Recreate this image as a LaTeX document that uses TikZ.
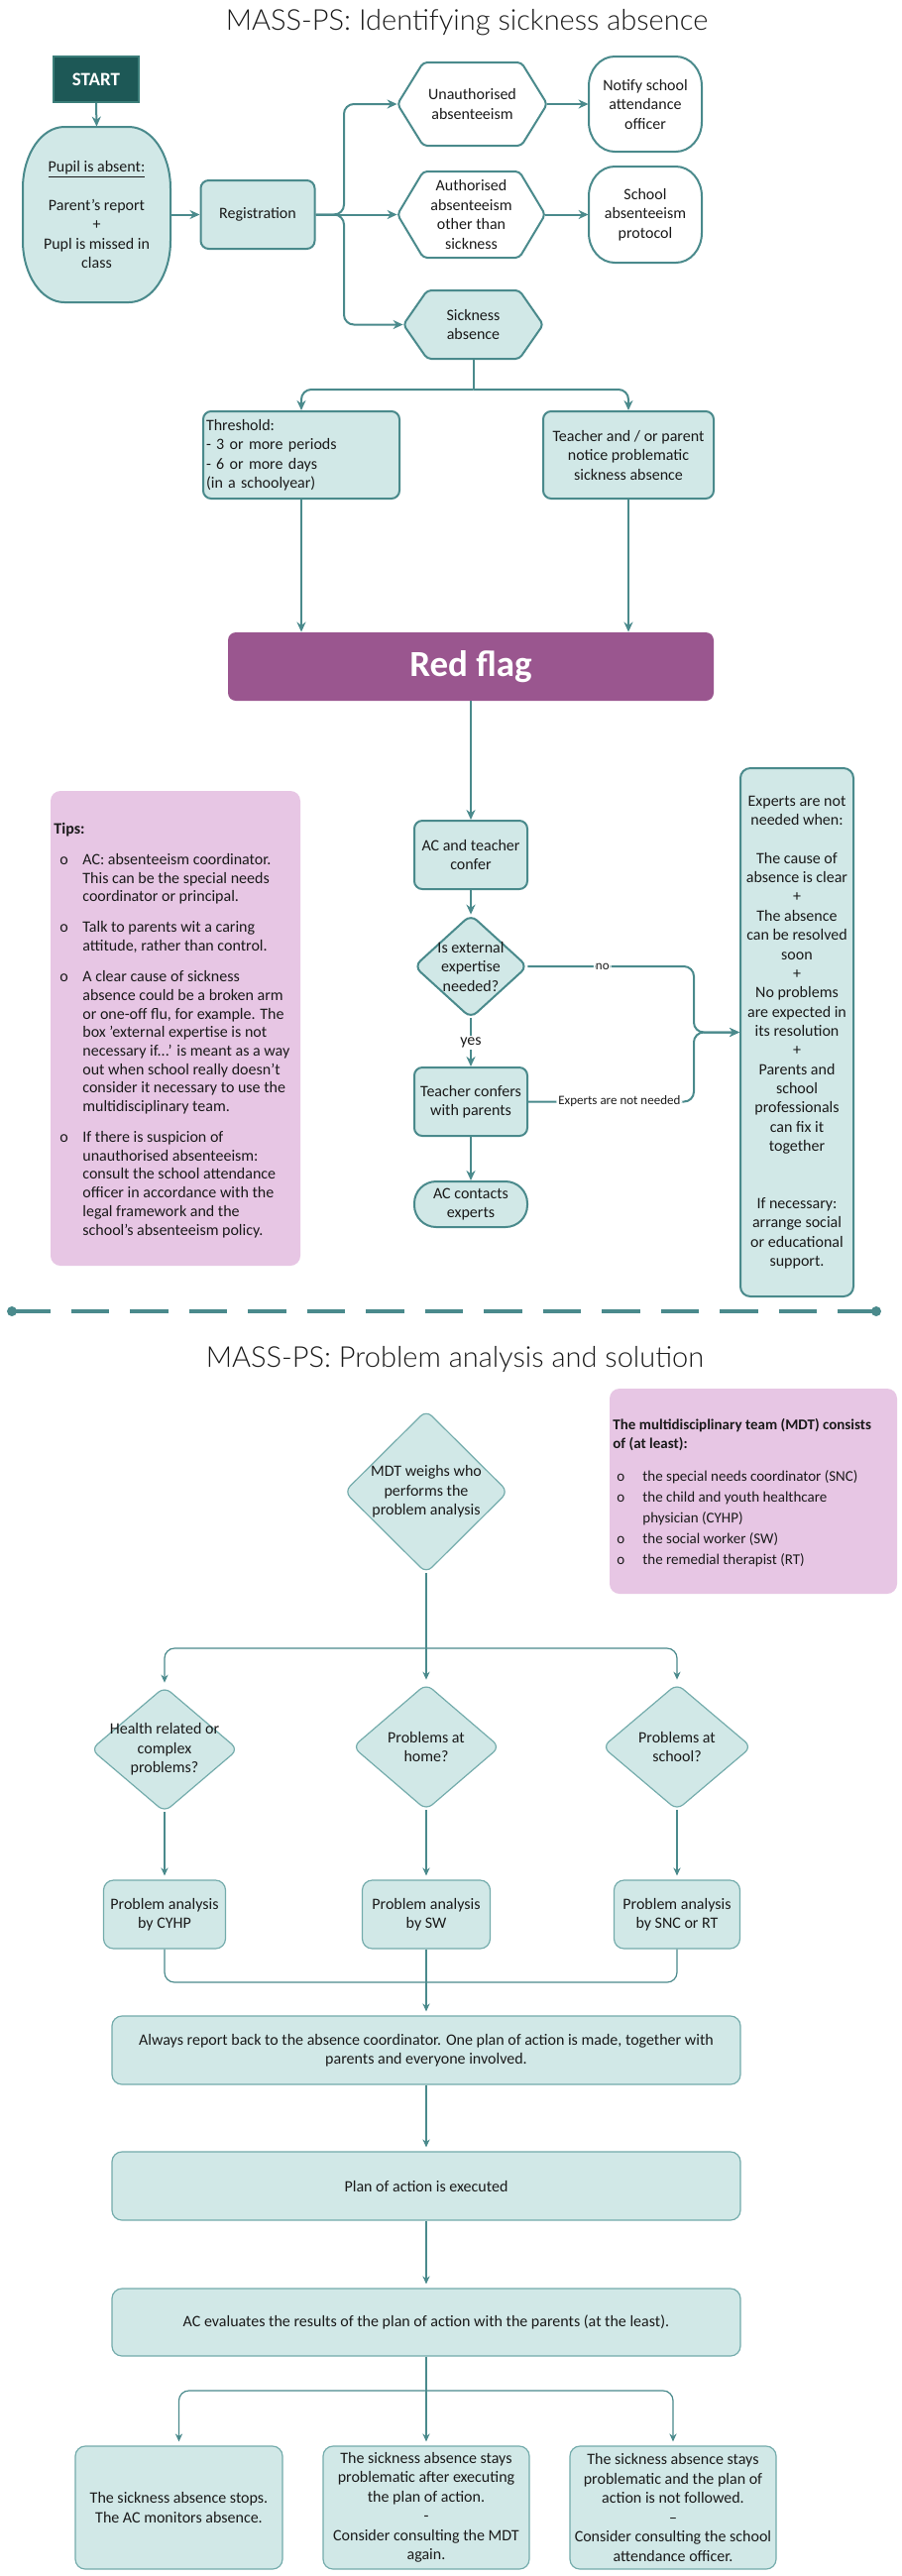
\documentclass[tikz,border=0pt]{standalone}
\usepackage{fontspec}
\setmainfont{Carlito}
\newfontfamily\titlefont{Lato}[UprightFont={* Light}]
\usetikzlibrary{arrows.meta}
\definecolor{tealD}{HTML}{4A8A8C}
\definecolor{tealB}{HTML}{74ACAC}
\definecolor{tealL}{HTML}{D1E8E7}
\definecolor{startC}{HTML}{1D5856}
\definecolor{startB}{HTML}{3B7D79}
\definecolor{redflag}{HTML}{9A568F}
\definecolor{pinkC}{HTML}{E7C6E4}
\definecolor{txt}{HTML}{1A1A1A}

% l t r b rx ry style
\newcommand\bulgeshape[7]{%
 \pgfmathsetmacro\bka{0.5523*#5}\pgfmathsetmacro\bkb{0.5523*#6}%
 \path[#7] ({#1+#5},#2) -- ({#3-#5},#2) .. controls ({#3-#5+\bka},#2) and (#3,{#2+#6-\bkb}) .. (#3,{#2+#6})
  -- (#3,{#4-#6}) .. controls (#3,{#4-#6+\bkb}) and ({#3-#5+\bka},#4) .. ({#3-#5},#4)
  -- ({#1+#5},#4) .. controls ({#1+#5-\bka},#4) and (#1,{#4-#6+\bkb}) .. (#1,{#4-#6})
  -- (#1,{#2+#6}) .. controls (#1,{#2+#6-\bkb}) and ({#1+#5-\bka},#2) .. cycle;}
% l t r b indent style
\newcommand\hexshape[6]{%
 \path[#6, rounded corners=2pt] ({#1+#5},#2) -- ({#3-#5},#2) -- (#3,{(#2+#4)/2}) -- ({#3-#5},#4) -- ({#1+#5},#4) -- (#1,{(#2+#4)/2}) -- cycle;}
% cx cy w h style
\newcommand\diashape[5]{%
 \path[#5, rounded corners=4pt] (#1,{#2-#4/2}) -- ({#1+#3/2},#2) -- (#1,{#2+#4/2}) -- ({#1-#3/2},#2) -- cycle;}

\begin{document}
\begin{tikzpicture}[x=0.5pt,y=-0.5pt,
 txtbase/.style={font=\fontsize{8}{9.75}\selectfont, align=center, inner sep=0pt, text=txt},
 topbox/.style={txtbase, draw=tealD, line width=1pt, fill=tealL, rounded corners=4pt},
 botbox/.style={txtbase, draw=tealB, line width=0.6pt, fill=tealL, rounded corners=5pt},
 sz/.style 2 args={minimum width=#1, minimum height=#2},
 ln/.style={draw=tealD, line width=1pt},
 arr/.style={ln, -{Stealth[length=5pt,width=4.5pt]}},
 lnb/.style={draw=tealD, line width=0.6pt},
 arrb/.style={lnb, -{Stealth[length=4pt,width=3.6pt]}, shorten >=2pt},
 lbl/.style={font=\fontsize{6.5}{7}\selectfont, fill=white, inner sep=1pt, text=txt},
 topshape/.style={draw=tealD, line width=1pt},
 botshape/.style={draw=tealB, line width=0.6pt, fill=tealL},
 dotnode/.style={circle, fill=tealD, inner sep=0pt, minimum size=5pt},
 titlestyle/.style={inner sep=0pt, text=txt, font=\titlefont\fontsize{14.5}{17}\selectfont},
]
\fill[white] (0,0) rectangle (910,2599);
\useasboundingbox (0,0) rectangle (910,2599);

% ---------------- Part 1 ----------------
\node[titlestyle] (title1) at (471,23) {MASS-PS: Identifying sickness absence};

\node[txtbase, fill=startC, draw=startB, line width=1pt, sz={43pt}{23pt}, text=white, font=\fontsize{9.5}{11}\selectfont\bfseries] (start) at (97,80) {START};

\bulgeshape{23}{128}{172}{305}{42}{62}{topshape, fill=tealL}
\node[txtbase, sz={74.5pt}{88.5pt}] (pupil) at (97.5,216.5) {\underline{Pupil is absent:}\\[9.75pt]Parent’s report\\+\\Pupl is missed in\\class};

\node[topbox, sz={57.5pt}{34.5pt}] (reg) at (260,216.5) {Registration};

\hexshape{401}{63}{552}{147}{26}{topshape, fill=white}
\node[txtbase, sz={75.5pt}{42pt}] (unauth) at (476.5,105) {Unauthorised\\absenteeism};
\hexshape{401}{173}{550}{260}{26}{topshape, fill=white}
\node[txtbase, sz={74.5pt}{43.5pt}] (auth) at (475.5,216.5) {Authorised\\absenteeism\\other than\\sickness};
\hexshape{407}{293}{548}{362}{24}{topshape, fill=tealL}
\node[txtbase, sz={70.5pt}{34.5pt}] (sick) at (477.5,327.5) {Sickness\\absence};

\bulgeshape{594}{57}{708}{153}{26}{30}{topshape, fill=white}
\node[txtbase, sz={57pt}{48pt}] (notify) at (651,105) {Notify school\\attendance\\officer};
\bulgeshape{594}{168}{708}{265}{26}{30}{topshape, fill=white}
\node[txtbase, sz={57pt}{48.5pt}] (school) at (651,216.5) {School\\absenteeism\\protocol};

\node[topbox, sz={99pt}{44pt}, align=left, text width=96pt, inner xsep=1.5pt] (thresh) at (304,459) {Threshold:\\- 3 or more periods\\- 6 or more days\\(in a schoolyear)};
\node[topbox, sz={86pt}{44pt}] (teacher) at (634,459) {Teacher and / or parent\\notice problematic\\sickness absence};

\node[txtbase, fill=redflag, rounded corners=4pt, sz={245pt}{34.5pt}, text=white, font=\fontsize{18.5}{20}\selectfont\bfseries] (red) at (475,672.5) {Red flag};

\node[fill=pinkC, rounded corners=5pt, sz={126pt}{239.5pt}, inner sep=0pt] (tipsbox) at (177,1037.5) {};
\node[anchor=north west, inner sep=0pt, font=\fontsize{8}{9.35}\selectfont, text=txt] (tipstext) at (54,828) {%
\begin{tabular}{@{}p{14.5pt}@{}l@{}}
\multicolumn{2}{@{}l@{}}{\textbf{Tips:}}\\[6.15pt]
\hspace*{3pt}o & AC: absenteeism coordinator.\\
 & This can be the special needs\\
 & coordinator or principal.\\[6.15pt]
\hspace*{3pt}o & Talk to parents wit a caring\\
 & attitude, rather than control.\\[6.15pt]
\hspace*{3pt}o & A clear cause of sickness\\
 & absence could be a broken arm\\
 & or one-off flu, for example. The\\
 & box 'external expertise is not\\
 & necessary if...' is meant as a way\\
 & out when school really doesn't\\
 & consider it necessary to use the\\
 & multidisciplinary team.\\[6.15pt]
\hspace*{3pt}o & If there is suspicion of\\
 & unauthorised absenteeism:\\
 & consult the school attendance\\
 & officer in accordance with the\\
 & legal framework and the\\
 & school's absenteeism policy.
\end{tabular}};

\node[topbox, sz={57pt}{34.5pt}] (acconf) at (475,862.5) {AC and teacher\\confer};
\diashape{475}{975}{114}{104}{topshape, fill=tealL}
\node[txtbase, sz={57pt}{52pt}] (ext) at (475,975) {Is external\\expertise\\needed?};
\node[topbox, sz={57pt}{34.5pt}] (teachconf) at (475,1111.5) {Teacher confers\\with parents};
\node[topbox, sz={57pt}{23pt}, rounded corners=11pt] (acexp) at (475,1215) {AC contacts\\experts};
\node[topbox, sz={57pt}{266.5pt}, rounded corners=5pt, font=\fontsize{8}{9.67}\selectfont] (experts) at (804,1041.5) {Experts are not\\needed when:\\[9.67pt]The cause of\\absence is clear\\+\\The absence\\can be resolved\\soon\\+\\No problems\\are expected in\\its resolution\\+\\Parents and\\school\\professionals\\can fix it\\together\\[19.33pt]If necessary:\\arrange social\\or educational\\support.};

% connectors part 1
\draw[arr] (start.south) -- (pupil.north);
\draw[arr] (pupil.east) -- (reg.west);
\coordinate (j1) at (347,216.5);
\draw[arr, rounded corners=5pt] (reg.east) -- (j1) |- (unauth.west);
\draw[arr] (reg.east) -- (auth.west);
\draw[arr, rounded corners=5pt] (reg.east) -- (j1) |- (sick.west);
\draw[arr] (unauth.east) -- (notify.west);
\draw[arr] (auth.east) -- (school.west);
\coordinate (j2) at (477.5,393);
\draw[ln] (sick.south) -- (j2);
\draw[arr, rounded corners=5pt] (j2) -| (thresh.north);
\draw[arr, rounded corners=5pt] (j2) -| (teacher.north);
\draw[arr] (thresh.south) -- (thresh.south |- red.north);
\draw[arr] (teacher.south) -- (teacher.south |- red.north);
\draw[arr] (red.south) -- (acconf.north);
\draw[arr] (acconf.south) -- (ext.north);
\draw[arr] (ext.south) -- node[lbl, font=\fontsize{8}{9}\selectfont]{yes} (teachconf.north);
\coordinate (k1) at (700,975);
\coordinate (k2) at (700,1111.5);
\draw[arr, rounded corners=5pt] (ext.east) -- node[lbl, pos=0.45]{no} (k1) |- (experts.west);
\draw[arr, rounded corners=5pt] (teachconf.east) -- node[lbl, pos=0.55]{Experts are not needed} (k2) |- (experts.west);
\draw[arr] (teachconf.south) -- (acexp.north);

% separator
\node[dotnode] (d1) at (12,1323) {};
\node[dotnode] (d2) at (884,1323) {};
\draw[tealD, line width=2pt, dash pattern=on 19.25pt off 10.5pt] (d1.center) -- (d2.center);

% ---------------- Part 2 ----------------
\node[titlestyle] (title2) at (459,1371) {MASS-PS: Problem analysis and solution};

\node[fill=pinkC, rounded corners=5pt, sz={145pt}{103.5pt}, inner sep=0pt] (mdtbox) at (760,1504.5) {};
\node[anchor=north west, inner sep=0pt, align=left, text=txt, font=\fontsize{7.5}{9.5}\selectfont\bfseries] (mdthead) at (618,1431) {The multidisciplinary team (MDT) consists\\of (at least):};
\node[anchor=north west, inner sep=0pt, text=txt, font=\fontsize{7.5}{10.5}\selectfont] (mdtlist) at (618,1479) {%
\begin{tabular}{@{}p{15pt}@{}l@{}}
\hspace*{2pt}o & the special needs coordinator (SNC)\\
\hspace*{2pt}o & the child and youth healthcare\\
 & physician (CYHP)\\
\hspace*{2pt}o & the social worker (SW)\\
\hspace*{2pt}o & the remedial therapist (RT)
\end{tabular}};

\diashape{430}{1505}{165}{164}{botshape}
\node[txtbase, sz={82.5pt}{82pt}] (mdt) at (430,1505) {MDT weighs who\\performs the\\problem analysis};

\diashape{166}{1765}{148}{126}{botshape}
\node[txtbase, sz={74pt}{63pt}] (health) at (166,1765) {Health related or\\complex\\problems?};
\diashape{430}{1762.5}{148}{127}{botshape}
\node[txtbase, sz={74pt}{63.5pt}] (home) at (430,1762.5) {Problems at\\home?};
\diashape{683}{1762.5}{150}{127}{botshape}
\node[txtbase, sz={75pt}{63.5pt}] (schoolq) at (683,1762.5) {Problems at\\school?};

\node[botbox, sz={61.5pt}{34.5pt}] (pa1) at (166,1931.5) {Problem analysis\\by CYHP};
\node[botbox, sz={64.5pt}{34.5pt}] (pa2) at (430,1931.5) {Problem analysis\\by SW};
\node[botbox, sz={63.5pt}{34.5pt}] (pa3) at (683,1931.5) {Problem analysis\\by SNC or RT};

\node[botbox, sz={317pt}{34.5pt}] (always) at (430,2068.5) {Always report back to the absence coordinator. One plan of action is made, together with\\parents and everyone involved.};
\node[botbox, sz={317pt}{34.5pt}] (plan) at (430,2205.5) {Plan of action is executed};
\node[botbox, sz={317pt}{34pt}] (eval) at (430,2343) {AC evaluates the results of the plan of action with the parents (at the least).};

\node[botbox, sz={104.5pt}{62pt}] (b1) at (180.5,2530) {The sickness absence stops.\\The AC monitors absence.};
\node[botbox, sz={104pt}{62pt}] (b2) at (430,2530) {The sickness absence stays\\problematic after executing\\the plan of action.\\-\\Consider consulting the MDT\\again.};
\node[botbox, sz={104pt}{62pt}] (b3) at (679,2530) {The sickness absence stays\\problematic and the plan of\\action is not followed.\\–\\Consider consulting the school\\attendance officer.};

% connectors part 2
\coordinate (j3) at (430,1663);
\draw[lnb] (mdt.south) -- (j3);
\draw[arrb, rounded corners=5pt] (j3) -| (health.north);
\draw[arrb] (j3) -- (home.north);
\draw[arrb, rounded corners=5pt] (j3) -| (schoolq.north);
\draw[arrb] (health.south) -- (pa1.north);
\draw[arrb] (home.south) -- (pa2.north);
\draw[arrb] (schoolq.south) -- (pa3.north);
\coordinate (j4) at (430,2000);
\draw[lnb, rounded corners=5pt] (pa1.south) |- (j4);
\draw[lnb, rounded corners=5pt] (pa3.south) |- (j4);
\draw[arrb] (pa2.south) -- (always.north);
\draw[arrb] (always.south) -- (plan.north);
\draw[arrb] (plan.south) -- (eval.north);
\coordinate (j5) at (430,2412);
\draw[lnb] (eval.south) -- (j5);
\draw[arrb, rounded corners=5pt] (j5) -| (b1.north);
\draw[arrb] (j5) -- (b2.north);
\draw[arrb, rounded corners=5pt] (j5) -| (b3.north);
\end{tikzpicture}
\end{document}
